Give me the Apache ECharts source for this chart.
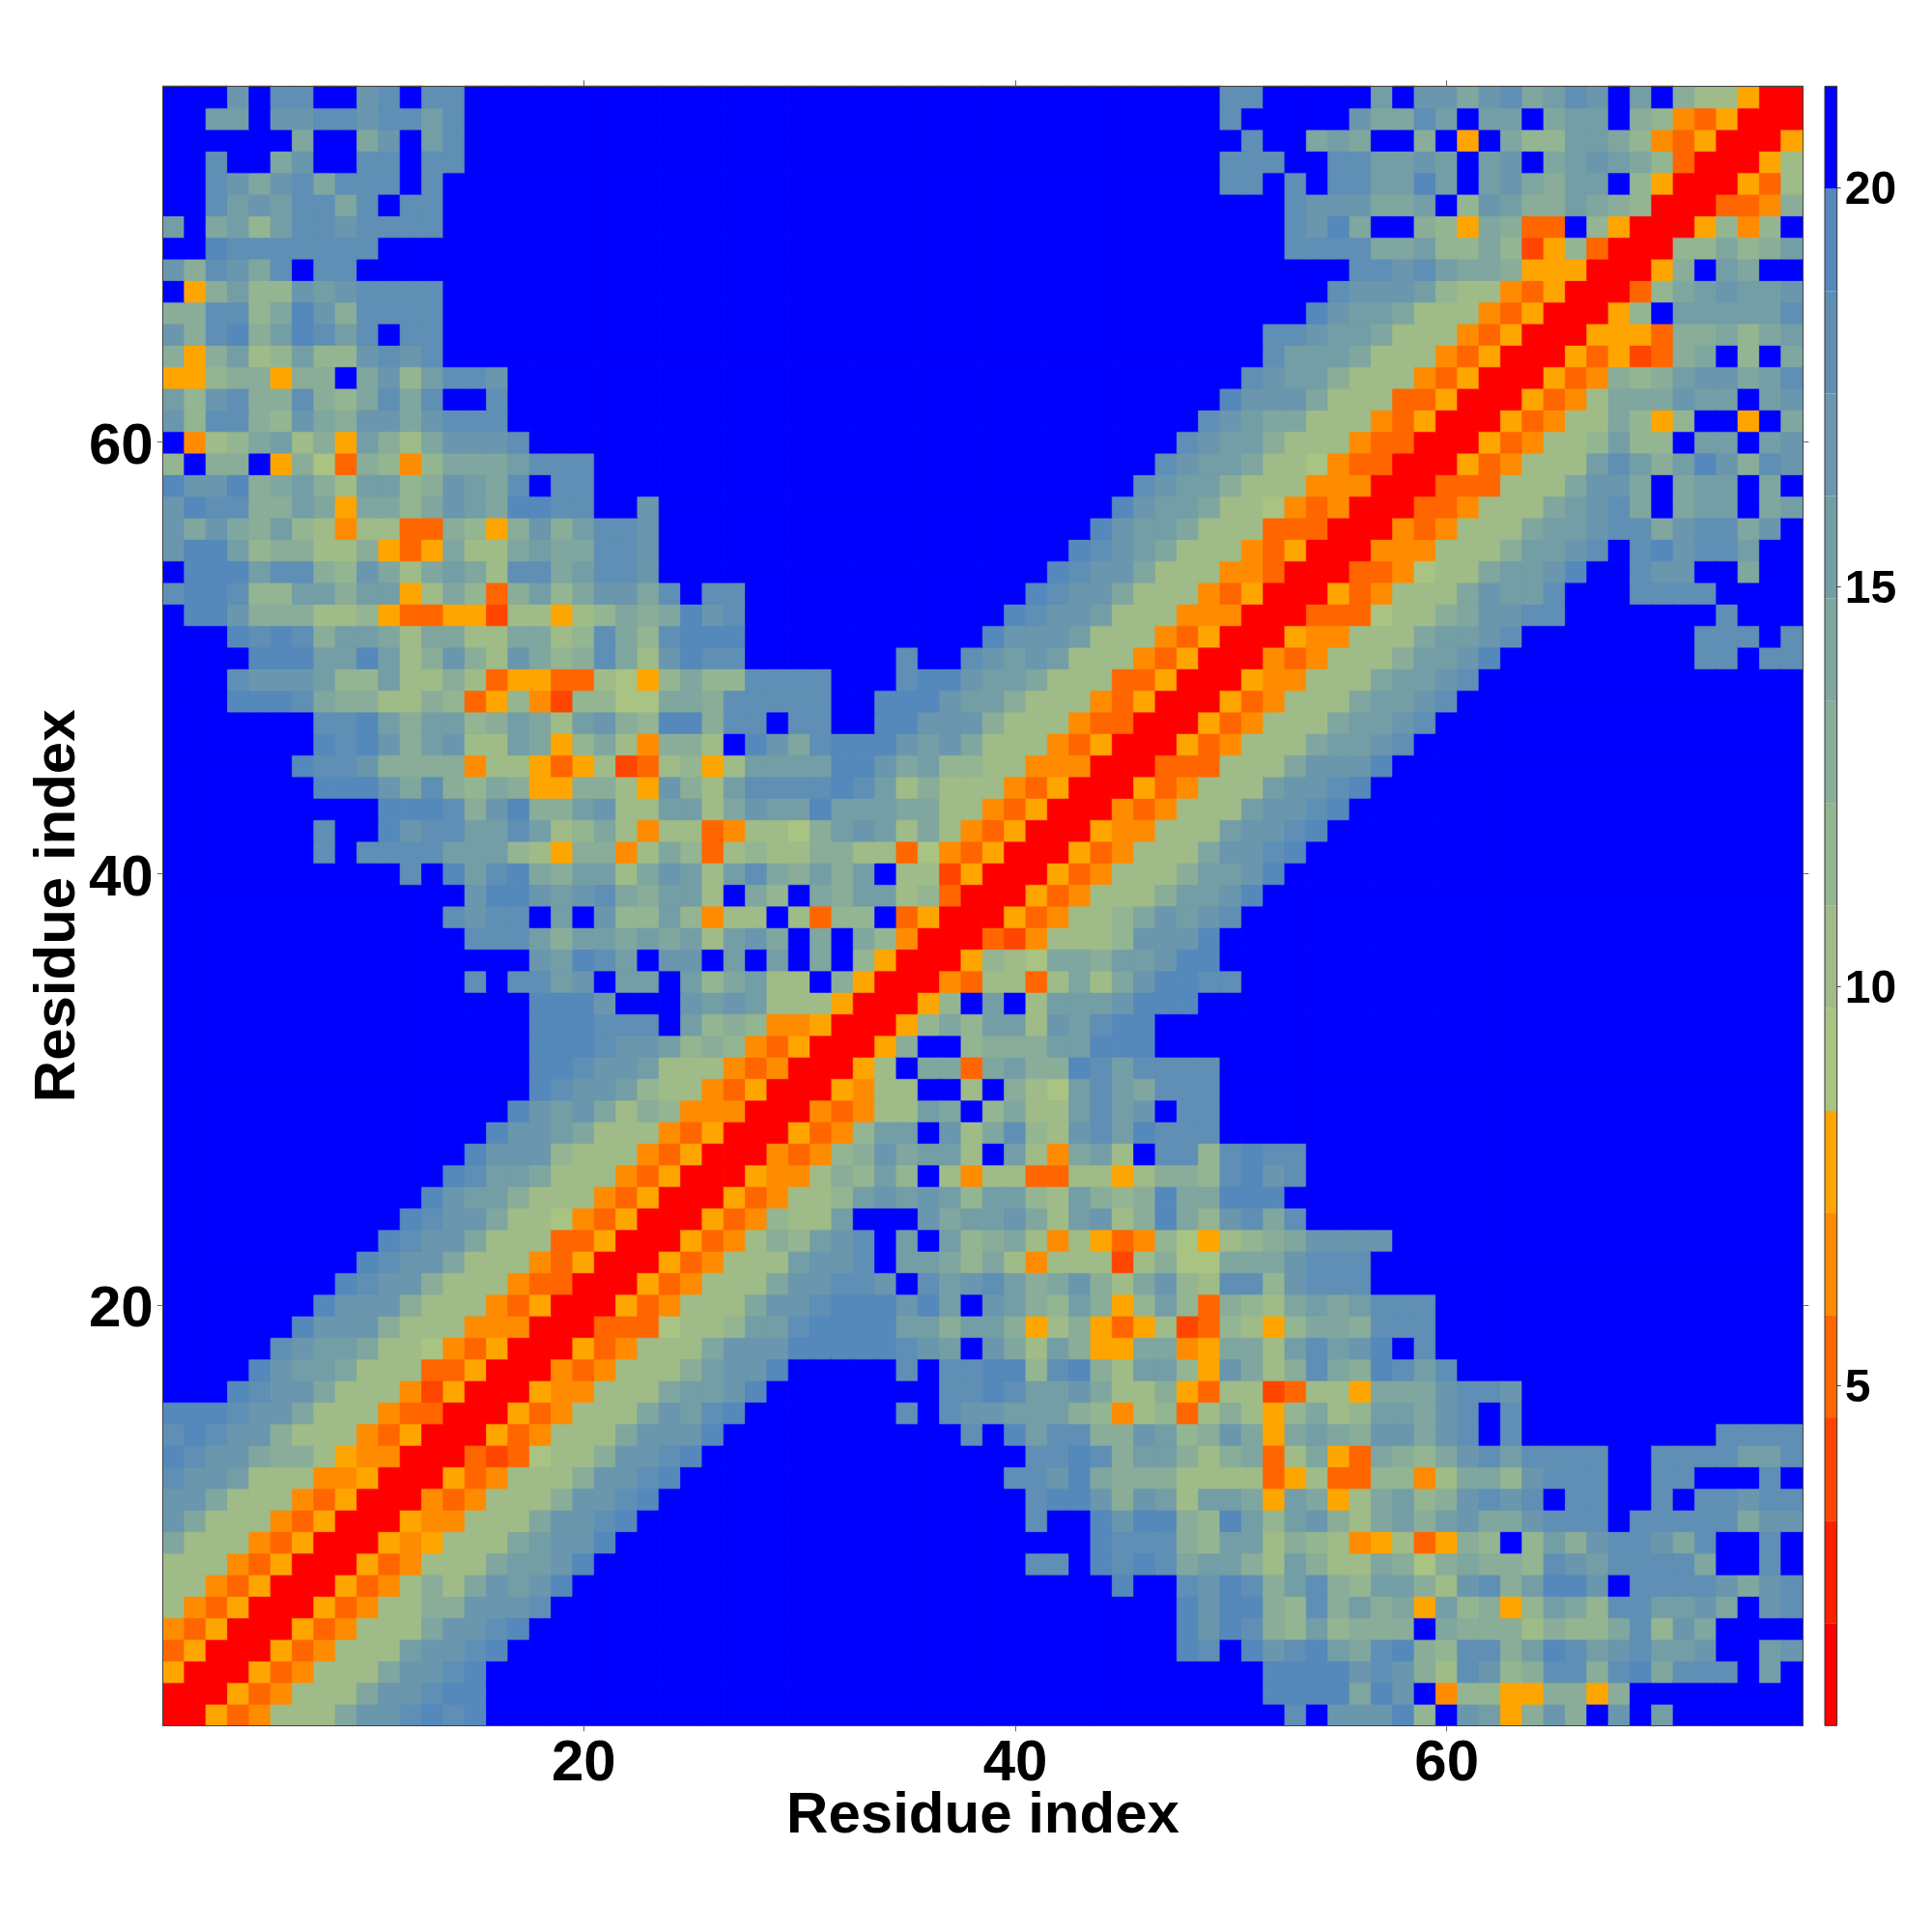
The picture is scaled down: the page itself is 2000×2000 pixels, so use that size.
<!DOCTYPE html>
<html>
<head>
<meta charset="utf-8">
<style>html,body{margin:0;padding:0;background:#fff}#c{width:2000px;height:2000px}</style>
<script src="https://cdn.jsdelivr.net/npm/echarts@6/dist/echarts.min.js"></script>
</head>
<body>
<div id="c"></div>
<script>
// Binned distance levels (0..f, low to high), one cell per character.
// The map is symmetric, so each row r holds columns 1..r as "from column 1|ending at the diagonal";
// anything between the two parts is level f.
const triangleRows = [
"|0","|00","|500","|3500","|43500","|743500","|7743500","|77743500","|a77743500","|ca77743500",
"|cca77743500","|dccb77744500","|edcca99754400","|dedcc977743500","|eeedcca77743300",
"|edcca77742500","|ecbba77733500","|dcbba77643500","|eccc977744400","|eccc977743500",
"|edcc977743300","|edcca77743500","|edcca77733500","|edcca77643500","|ecbb977743500",
"|edbba77743500","|eccc877743500","|eccba77743500","|ecbca79844400","|edccb87743500",
"|eedccb77743400","|eeedccb89843500","|eeedddfb89844500","|eeecfffcbcb777500",
"|dfddbcfbbfb8ab77f9500","|cbedbfccfbfbfaf8500","|dddb9bbabab7bcafafa8400",
"|dcddfbfc88b8477f7388f3500","|ceecbcda9bb7fa8fa9bb78300",
"|dfebdea9bb7acb7bda9b9bf772500",
"|dfddddbbb8759947a83787799773643500",
"|dffecddbbdb78a7477347769bcb7a743500",
"|eeed9ce99bc77bb7acbbebbbaa7743500",
"|eeecad98a9559975c97bddddedb7977743500",
"|eddc99994775357237857bbbbeecab887744400",
"|edec9bc77ba58a74997fecadeeecbca77743500",
"|ddeb9bb89ba7bc98ee9ddfddffeeccc977743300",
"|eeeda997798358428866aa9dddddffeeecbb977743500",
"|dcccb88b7797355337658a88ddddfffdeecbba77733500",
"ffffeeebbeb79c97ca89da7cedd|dffdcbcb77743500",
"fffeded9bba7aa77aa78da8deee|ecccb77743500",
"feec99977853355277578a9aecd|edccb77744400",
"deed88bb9bb57a839b8accadfdd|edcca77743500",
"feeebdd98ca7aba7ddabddc|edcca77744300",
"ceeb899779535a77abaaddc|edcba77743500",
"caca9b87477339859c9bddc|ecbba77733300",
"cedd99ba5aa8acbaeeddffc|ecbba77643400",
"ecce9ab97bb89cbadfdd|dcbb977744400",
"8f99f59639848aaabddd|dcbba77643300",
"f478ab795b97acccd|dcbb977743300",
"c8dd98ca9ccacddd|dcbaa77743500",
"b8cd99d98adadffd|eccca77733500",
"55899599fac8bddc|dcbb977743500",
"959b78b88cdcd|dbbba77743500",
"c9de9bedbdfdd|ddcbba77743500",
"99dd8aec9dddd|ecbba77743500",
"f59b88cbcdddd|dcccb87743500",
"c9dcadfdd|ddcdbaa955500",
"ffeddddddd|ddddaab88a8258300",
"bfab8bddcdddd|dceaff985a933f8500",
"ffdbcbddadfdd|dcccaabf8cb99ba9800",
"ffdcacdadddfd|ddfdfddbbebfbca9bbf8500",
"ffdffacffddfdd|dddffddbbcbfbcfabcba8300",
"ffffffaffacfbd|dffabaff9f5fa88bba843500",
"ffbbfccddcddbd|dfffffcaadbfbbfabbf9843500",
"fffcfddffcdfdd|ddfffffbfccacdabdcfbf977500"
];
const residues = Array.from({length:76},(_,i)=>String(i+1));
const residueTicks = ["20","40","60"];
const colorTicks = [5,10,15,20];
const levelColors = ["#ff0000","#ff2000","#ff4500","#ff6600","#ff8c00","#ffa500",
  "#a9c383","#9fbb87","#94b591","#89ad98","#7fa69f","#749ea6","#6a97ad","#5f8fb4","#5588bb","#0000ff"];
const scaleMin = 0.74, scaleMax = 21.27;
const FONT = '"Liberation Sans"';

const step = (scaleMax-scaleMin)/levelColors.length;
const levelValue = k => scaleMin + (k+0.5)*step;
const cell = (c,r,k)=>({value:[c,r,levelValue(k)],itemStyle:{borderColor:levelColors[k],borderWidth:0.7}});
const grid = [];
for (let r=1;r<=76;r++){
  const [a,b] = triangleRows[r-1].split("|");
  const mid = "f".repeat(Math.max(0,r-a.length-b.length));
  const s = (a+mid+b).slice(0,r).padEnd(r,"f");
  for (let c=1;c<=r;c++){
    const k = parseInt(s[c-1],16);
    grid.push(cell(c-1,r-1,k));
    if (c!==r) grid.push(cell(r-1,c-1,k));
  }
}
const pieces = levelColors.map((color,i)=>({gte:scaleMin+i*step, lt:scaleMin+(i+1)*step, color}));
const barData = levelColors.map((color,i)=>[scaleMin+i*step, scaleMin+(i+1)*step]);

const tickFilter = (i,v)=>residueTicks.includes(String(v));
const catAxis = (extra)=>Object.assign({
  type:'category', data:residues, gridIndex:0, z:10,
  axisLine:{show:true,onZero:false,lineStyle:{color:'#444',width:1}},
  axisTick:{show:true,alignWithLabel:true,length:6,interval:tickFilter,lineStyle:{color:'#666',width:1}},
  splitLine:{show:false}
},extra);
const labelStyle = {show:true,interval:tickFilter,fontFamily:FONT,fontWeight:'bold',fontSize:60,color:'#000',margin:10,hideOverlap:false};
const nameStyle = {fontFamily:FONT,fontWeight:'bold',fontSize:60,color:'#000'};

const chart = echarts.init(document.getElementById('c'),null,{renderer:'canvas'});
chart.setOption({
  animation:false,
  backgroundColor:'#fff',
  grid:[
    {left:168.7,top:89.3,width:1697.6,height:1697,containLabel:false},
    {left:1889,top:89.3,width:12.7,height:1697,containLabel:false}
  ],
  xAxis:[
    catAxis({position:'bottom',axisLabel:labelStyle,name:'Residue index',nameLocation:'middle',nameGap:64,nameMoveOverlap:false,nameTextStyle:nameStyle}),
    catAxis({position:'top',axisLabel:{show:false}}),
    {type:'category',gridIndex:1,data:['scale'],axisLine:{show:false},axisTick:{show:false},axisLabel:{show:false}}
  ],
  yAxis:[
    catAxis({position:'left',axisLabel:Object.assign({},labelStyle,{verticalAlign:'top',lineHeight:60,padding:[-24,0,0,0]}),name:'Residue index',nameLocation:'middle',nameGap:78,nameMoveOverlap:false,nameRotate:90,nameTextStyle:nameStyle}),
    catAxis({position:'right',axisLabel:{show:false}}),
    {type:'value',gridIndex:1,position:'right',min:scaleMin,max:scaleMax,
      axisLine:{show:false},splitLine:{show:false},
      axisTick:{show:true,length:4,customValues:colorTicks,lineStyle:{color:'#444',width:1}},
      axisLabel:{show:true,customValues:colorTicks,fontFamily:FONT,fontWeight:'bold',fontSize:48,color:'#000',margin:8,verticalAlign:'top',lineHeight:48,padding:[-20.5,0,0,0]}}
  ],
  visualMap:{show:false,type:'piecewise',seriesIndex:0,pieces:pieces,dimension:2},
  series:[
    {type:'heatmap',xAxisIndex:0,yAxisIndex:0,data:grid,progressive:0,silent:true,emphasis:{disabled:true}},
    {type:'custom',xAxisIndex:2,yAxisIndex:2,data:barData,silent:true,clip:false,
      encode:{y:[0,1]},
      renderItem:(params,api)=>{
        const cs = params.coordSys;
        const y0 = api.coord(['scale',api.value(0)])[1];
        const y1 = api.coord(['scale',api.value(1)])[1];
        return {type:'rect',shape:{x:cs.x,y:y1,width:cs.width,height:y0-y1},
          style:{fill:levelColors[params.dataIndex],stroke:null}};
      }},
    {type:'custom',xAxisIndex:2,yAxisIndex:2,data:[[scaleMin,scaleMax]],silent:true,clip:false,z:5,
      renderItem:(params,api)=>{
        const cs = params.coordSys;
        return {type:'rect',shape:{x:cs.x,y:cs.y,width:cs.width,height:cs.height},
          style:{fill:null,stroke:'#333',lineWidth:1}};
      }}
  ]
});
</script>
</body>
</html>
